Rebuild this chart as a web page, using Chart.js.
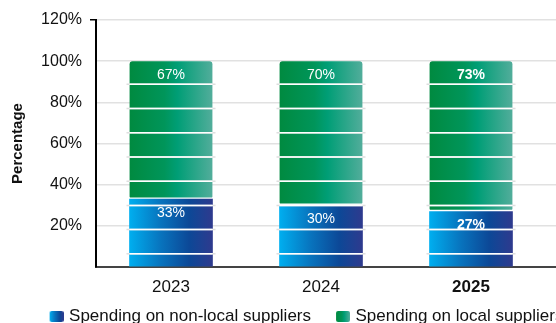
<!DOCTYPE html>
<html>
<head>
<meta charset="utf-8">
<script src="https://cdn.jsdelivr.net/npm/chart.js@4.4.1/dist/chart.umd.min.js"></script>
<style>
  html, body { margin: 0; padding: 0; background: #fff; overflow: hidden; }
  #wrap { position: relative; width: 607px; height: 335px; }
</style>
</head>
<body>
<div id="wrap"><canvas id="chart"></canvas></div>
<script>
// Share of procurement spending by supplier type, per year (percent)
const years = ['2023', '2024', '2025'];
const nonLocalShare = [33, 30, 27];
const localShare = [67, 70, 73];
const seriesNames = ['Spending on non-local suppliers', 'Spending on local suppliers'];
const highlightYear = '2025';

const FONT = "'Liberation Sans', Arial, Helvetica, sans-serif";
const BAR_W = 83;

// Horizontal gradient stops for each series
const blueStops = [[0, '#00aeef'], [0.38, '#0873bd'], [0.72, '#0c4897'], [1, '#2e3a8e']];
const greenStops = [[0, '#008a40'], [0.42, '#00955a'], [0.58, '#009e76'], [1, '#52ad9b']];

// Thin white bands across each bar, in value units
const bands = { first: 88.8, step: 11.77, count: 8 };

function barGradient(ctx, stops) {
  const chart = ctx.chart;
  if (!chart.chartArea || ctx.type !== 'data') return stops[0][1];
  const cx = chart.scales.x.getPixelForValue(ctx.dataIndex);
  const g = chart.ctx.createLinearGradient(cx - BAR_W / 2, 0, cx + BAR_W / 2, 0);
  stops.forEach(([o, c]) => g.addColorStop(o, c));
  return g;
}

// Legend swatch: a small gradient chip, with blank lead-in space on its left
const SWATCH_LEAD = 28;
function swatch(stops) {
  const c = document.createElement('canvas');
  c.width = SWATCH_LEAD + 14; c.height = 11;
  const g2 = c.getContext('2d');
  const gr = g2.createLinearGradient(SWATCH_LEAD, 0, SWATCH_LEAD + 14, 0);
  stops.forEach(([o, col]) => gr.addColorStop(o, col));
  g2.fillStyle = gr;
  g2.beginPath();
  g2.roundRect(SWATCH_LEAD, 0, 14, 11, 2);
  g2.fill();
  return c;
}
const swatches = [swatch(blueStops), swatch(greenStops)];

// Snap a line position to the device pixel grid the same way the scales do
function snap(chart, pixel, width) {
  const dpr = chart.currentDevicePixelRatio || 1;
  const half = width / 2;
  return Math.round((pixel - half) * dpr) / dpr + half;
}

// Lets the legend row centre on a wider span than the plot
const legendSpan = {
  id: 'legendSpan',
  afterLayout(chart) {
    chart.legend.left = 0;
    chart.legend.right = 588;
  }
};

// Extends the horizontal grid and the base line to the right edge of the canvas
const gridRun = {
  id: 'gridRun',
  beforeDatasetsDraw(chart) {
    const { ctx, chartArea } = chart;
    const y = chart.scales.y;
    ctx.save();
    ctx.lineCap = 'butt';
    y.ticks.forEach(t => {
      if (t.value === 0) return;
      const py = snap(chart, y.getPixelForValue(t.value), 1.5);
      ctx.strokeStyle = '#e1e1e1';
      ctx.lineWidth = 1.5;
      ctx.beginPath();
      ctx.moveTo(chartArea.right, py);
      ctx.lineTo(chart.width, py);
      ctx.stroke();
    });
    const by = snap(chart, chartArea.bottom, 2);
    ctx.strokeStyle = '#444';
    ctx.lineWidth = 2;
    ctx.beginPath();
    ctx.moveTo(chartArea.right, by);
    ctx.lineTo(chart.width, by);
    ctx.stroke();
    ctx.restore();
  }
};

// White bands over the stacks and value labels inside each segment
const barDecor = {
  id: 'barDecor',
  afterDatasetsDraw(chart) {
    const { ctx } = chart;
    const y = chart.scales.y;
    const metas = chart.getSortedVisibleDatasetMetas();
    ctx.save();
    ctx.lineCap = 'butt';
    chart.data.labels.forEach((lab, i) => {
      const bars = metas.map(m => m.data[i]);
      const top = Math.min(...bars.map(b => b.y));
      const bottom = Math.max(...bars.map(b => b.base));
      const cx = bars[0].x, w = bars[0].width;
      for (let k = 0; k < bands.count; k++) {
        const py = y.getPixelForValue(bands.first - k * bands.step);
        if (py <= top + 2 || py >= bottom - 1) continue;
        ctx.lineWidth = 1.5;
        ctx.strokeStyle = '#dedede';
        ctx.beginPath();
        ctx.moveTo(cx - w / 2 - 3, py); ctx.lineTo(cx + w / 2 + 3, py);
        ctx.stroke();
        ctx.strokeStyle = '#ffffff';
        ctx.beginPath();
        ctx.moveTo(cx - w / 2, py); ctx.lineTo(cx + w / 2, py);
        ctx.stroke();
      }
    });
    ctx.fillStyle = '#ffffff';
    ctx.textAlign = 'center';
    ctx.textBaseline = 'middle';
    metas.forEach(m => {
      const values = chart.data.datasets[m.index].data;
      m.data.forEach((b, i) => {
        const bold = chart.data.labels[i] === highlightYear;
        ctx.font = (bold ? 'bold ' : '') + '14px ' + FONT;
        ctx.fillText(values[i] + '%', b.x, b.y + 14);
      });
    });
    ctx.restore();
  }
};

new Chart(document.getElementById('chart'), {
  type: 'bar',
  data: {
    labels: years,
    datasets: [
      {
        label: seriesNames[0],
        data: nonLocalShare,
        backgroundColor: ctx => barGradient(ctx, blueStops),
        borderRadius: 3,
        borderSkipped: false,
        borderWidth: 0,
        barThickness: BAR_W
      },
      {
        label: seriesNames[1],
        data: localShare,
        backgroundColor: ctx => barGradient(ctx, greenStops),
        borderColor: '#ffffff',
        borderWidth: { top: 0, left: 0, right: 0, bottom: 2 },
        borderRadius: 3,
        borderSkipped: false,
        barThickness: BAR_W
      }
    ]
  },
  options: {
    responsive: true,
    maintainAspectRatio: false,
    animation: false,
    layout: { padding: { left: 0, right: 61, top: 20, bottom: 0 } },
    plugins: {
      tooltip: { enabled: false },
      legend: {
        position: 'bottom',
        labels: {
          usePointStyle: true,
          pointStyleWidth: SWATCH_LEAD + 14 - 6,
          boxHeight: 11,
          padding: 0,
          color: '#111',
          font: { family: FONT, size: 17 },
          generateLabels: chart => chart.data.datasets.map((ds, i) => ({
            text: ds.label,
            pointStyle: swatches[i],
            fillStyle: 'transparent',
            strokeStyle: 'transparent',
            lineWidth: 0,
            hidden: false,
            datasetIndex: i,
            fontColor: '#111'
          }))
        }
      }
    },
    scales: {
      x: {
        stacked: true,
        grid: { display: false, drawTicks: false },
        border: { color: '#444', width: 2 },
        ticks: {
          color: '#111',
          padding: 13,
          font: ctx => ({
            family: FONT,
            size: 17,
            lineHeight: 0.88,
            weight: years[ctx.index] === highlightYear ? 'bold' : 'normal'
          })
        }
      },
      y: {
        stacked: true,
        min: 0,
        max: 120,
        border: { color: '#000', width: 2 },
        grid: {
          color: '#e1e1e1',
          lineWidth: 1.5,
          drawTicks: true,
          tickLength: 6,
          tickColor: ctx => (ctx.tick && ctx.tick.value === 120) ? '#000' : 'rgba(0,0,0,0)'
        },
        ticks: {
          stepSize: 20,
          padding: 8,
          color: '#111',
          font: { family: FONT, size: 16 },
          callback: v => (v === 0 ? '' : v + '%')
        },
        title: {
          display: true,
          text: 'Percentage',
          color: '#111',
          font: { family: FONT, size: 15, weight: 'bold' },
          padding: { top: 9, bottom: 0 }
        },
        afterFit: s => { s.width = 96; }
      }
    }
  },
  plugins: [legendSpan, gridRun, barDecor]
});
</script>
</body>
</html>
